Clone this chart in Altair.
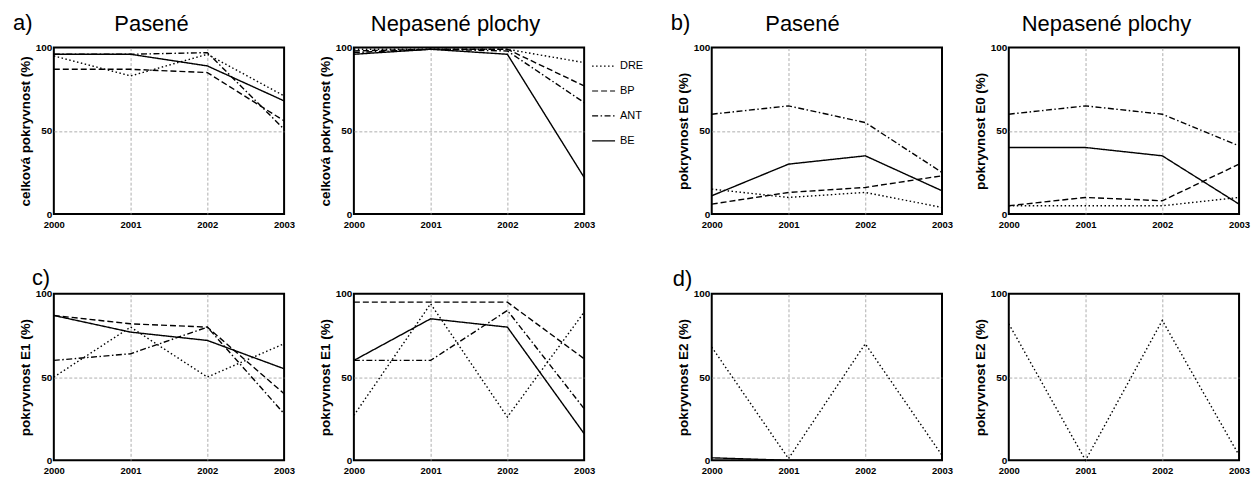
import altair as alt
import pandas as pd

years = [2000, 2001, 2002, 2003]
series = ["DRE", "BP", "ANT", "BE"]
letters = ["a)", "b)", "c)", "d)"]
panel_titles = ["Pasené", "Nepasené plochy"]
y_titles = ["celková pokryvnost (%)", "pokryvnost E0 (%)", "pokryvnost E1 (%)", "pokryvnost E2 (%)"]

# a) celková pokryvnost
a_pas = {"DRE": [95, 83, 96, 71], "BP": [87, 87, 85, 56], "ANT": [96, 96, 97, 51], "BE": [96, 96, 89, 68]}
a_nep = {"DRE": [99, 99, 99, 91], "BP": [98, 99, 99, 77], "ANT": [97, 99, 98, 67], "BE": [96, 99, 96, 22]}
# b) pokryvnost E0
b_pas = {"DRE": [15, 10, 13, 4], "BP": [6, 13, 16, 23], "ANT": [60, 65, 55, 25], "BE": [11, 30, 35, 14]}
b_nep = {"DRE": [5, 5, 5, 10], "BP": [5, 10, 8, 30], "ANT": [60, 65, 60, 41], "BE": [40, 40, 35, 6]}
# c) pokryvnost E1
c_pas = {"DRE": [50, 80, 50, 70], "BP": [87, 82, 80, 40], "ANT": [60, 64, 80, 28], "BE": [87, 77, 72, 55]}
c_nep = {"DRE": [27, 94, 26, 89], "BP": [95, 95, 95, 61], "ANT": [60, 60, 90, 31], "BE": [60, 85, 80, 16]}
# d) pokryvnost E2
d_pas = {"DRE": [68, 1, 70, 3], "BE": [1.5, 0, 0, 0]}
d_nep = {"DRE": [82, 0, 84, 3]}

W, H = 231, 167
FONT = "Liberation Sans"
dash_range = [[1.5, 2.5], [6, 3], [6, 2.5, 1.5, 2.5], [1, 0]]


def to_frame(vals):
    rows = []
    for s in series:
        if s in vals:
            for yr, v in zip(years, vals[s]):
                rows.append({"rok": yr, "pokryvnost": v, "serie": s})
    return pd.DataFrame(rows)


def text_layer(txt, x, y, align, size):
    return alt.Chart(pd.DataFrame({"t": [txt]})).mark_text(
        align=align, baseline="alphabetic", fontSize=size, font=FONT, color="black"
    ).encode(text="t:N", x=alt.value(x), y=alt.value(y))


def panel(vals, ytitle, title=None, tx=0, letter=None, lx=0, ly=0, legend=False):
    sc = alt.Scale(domain=series, range=dash_range)
    if legend:
        leg = alt.Legend(title=None, orient="none", legendX=W + 7, legendY=6,
                         symbolType="stroke", symbolSize=530, symbolStrokeWidth=1.2,
                         symbolStrokeColor="black", labelFont=FONT, labelFontSize=11,
                         labelColor="black", labelOffset=4, rowPadding=7, padding=0)
        dash = alt.StrokeDash("serie:N", scale=sc, legend=leg)
    else:
        dash = alt.StrokeDash("serie:N", scale=sc, legend=None)
    lines = alt.Chart(to_frame(vals)).mark_line(color="black", strokeWidth=1.4).encode(
        x=alt.X("rok:Q", scale=alt.Scale(domain=[2000, 2003], nice=False, zero=False),
                axis=alt.Axis(values=years, format="d", title=None, labelFontSize=9.5, labelPadding=5,
                              gridOpacity={"condition": {"test": "datum.value > 2000 && datum.value < 2003", "value": 1}, "value": 0})),
        y=alt.Y("pokryvnost:Q", scale=alt.Scale(domain=[0, 100], nice=False),
                axis=alt.Axis(values=[0, 50, 100], title=ytitle, labelPadding=2, titlePadding=3,
                              gridOpacity={"condition": {"test": "datum.value == 50", "value": 1}, "value": 0})),
        strokeDash=dash,
    )
    layers = [lines]
    if title:
        layers.append(text_layer(title, tx, -17, "center", 22))
    if letter:
        layers.append(text_layer(letter, lx, ly, "left", 22))
    return alt.layer(*layers).properties(width=W, height=H)


pa1 = panel(a_pas, y_titles[0], panel_titles[0], 98, letters[0], -41, -18)
pa2 = panel(a_nep, y_titles[0], panel_titles[1], 102, legend=True)
pb1 = panel(b_pas, y_titles[1], panel_titles[0], 91, letters[1], -41, -18)
pb2 = panel(b_nep, y_titles[1], panel_titles[1], 98)
pc1 = panel(c_pas, y_titles[2], letter=letters[2], lx=-22, ly=-9)
pc2 = panel(c_nep, y_titles[2])
pd1 = panel(d_pas, y_titles[3], letter=letters[3], lx=-39, ly=-8)
pd2 = panel(d_nep, y_titles[3])

left = alt.concat(pa1, pa2, pc1, pc2, columns=2, spacing={"row": 80, "column": 70},
                  bounds="flush").resolve_scale(strokeDash="independent")
right = alt.concat(pb1, pb2, pd1, pd2, columns=2, spacing={"row": 80, "column": 67},
                   bounds="flush").resolve_scale(strokeDash="independent")

chart = alt.hconcat(left, right, spacing=25).resolve_scale(strokeDash="independent").properties(
    padding={"left": 12, "top": 10, "right": 5, "bottom": 5}, background="white"
).configure_axis(
    labelFont=FONT, labelFontWeight="bold", labelFontSize=10, labelColor="black",
    titleFont=FONT, titleFontWeight="bold", titleFontSize=13.5, titleColor="black",
    domain=False, ticks=False, gridColor="#9a9a9a", gridDash=[3, 2], gridWidth=0.8,
    labelFlush=False, labelOverlap=False,
).configure_view(stroke="black", strokeWidth=2)

chart.save("out.html", embed_options={"renderer": "svg", "actions": False})
